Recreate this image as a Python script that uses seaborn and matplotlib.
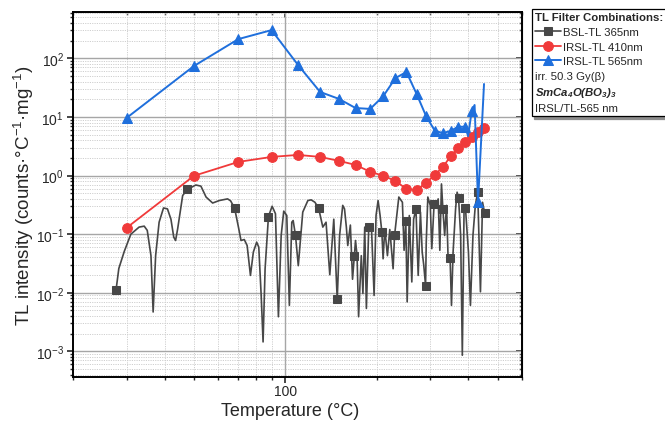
import matplotlib
matplotlib.use("Agg")
import matplotlib.pyplot as plt
import seaborn as sns
import pandas as pd
from matplotlib.ticker import LogLocator, NullFormatter, ScalarFormatter
from matplotlib.offsetbox import TextArea, VPacker

# ---------------- data ----------------
bsl_T = [27.7, 28.3, 29.5, 31.0, 33.0, 34.3, 35.1, 36.1, 36.7, 37.4, 38.4, 39.7, 40.9, 42.0, 42.9,
         43.5, 44.2, 45.9, 47.6, 50.7, 52.7, 54.8, 57.6, 60.6, 64.5, 66.0, 68.0, 70.2, 71.4, 73.2,
         74.8, 76.7, 78.4, 80.4, 81.7, 83.2, 84.4, 85.7, 87.9, 90.4, 92.7, 94.8, 96.8, 98.7, 101.0,
         103.0, 104.9, 106.0, 107.9, 110.2, 114.0, 118.5, 121.5, 125.0, 128.5, 132.7, 136.0, 139.9,
         144.2, 148.0, 150.7, 154.3, 156.4, 158.6, 160.3, 163.5, 166.2, 168.5, 170.0, 172.0, 174.0,
         177.6, 179.8, 182.3, 184.6, 187.9, 191.8, 195.7, 198.6, 201.7, 204.8, 207.5, 209.5, 212.2,
         216.5, 220.4, 226.0, 228.5, 236.0, 242.5, 245.6, 248.8, 251.4, 255.5, 260.4, 264.0, 268.7,
         273.3, 278.0, 281.7, 285.0, 289.0, 290.5, 294.0, 299.5, 303.0, 308.3, 314.0, 318.0, 322.0,
         326.0, 329.5, 334.0, 338.8, 342.6, 348.0, 351.7, 356.0, 362.8, 367.0, 371.0, 377.0, 381.8,
         387.0, 391.0, 399.9, 406.0, 413.8, 421.3, 429.0, 438.0, 445.0, 452.0]
bsl_V = [0.011, 0.026, 0.051, 0.10, 0.132, 0.137, 0.116, 0.043, 0.0047, 0.043, 0.16, 0.28, 0.27, 0.18,
         0.089, 0.078, 0.124, 0.457, 0.58, 0.69, 0.66, 0.43, 0.34, 0.375, 0.40, 0.37, 0.28, 0.124,
         0.078, 0.081, 0.064, 0.0198, 0.0495, 0.073, 0.06, 0.009, 0.00145, 0.0257, 0.2, 0.30, 0.223,
         0.0039, 0.095, 0.247, 0.208, 0.0061, 0.16, 0.171, 0.095, 0.029, 0.238, 0.375, 0.385, 0.35,
         0.28, 0.132, 0.16, 0.0203, 0.18, 0.0077, 0.095, 0.31, 0.27, 0.132, 0.064, 0.143, 0.017,
         0.043, 0.078, 0.043, 0.0039, 0.043, 0.0097, 0.132, 0.0054, 0.13, 0.132, 0.009, 0.208, 0.375,
         0.208, 0.11, 0.038, 0.124, 0.043, 0.12, 0.0257, 0.095, 0.43, 0.35, 0.053, 0.165, 0.007,
         0.208, 0.0153, 0.18, 0.27, 0.0198, 0.238, 0.0495, 0.03, 0.0133, 0.073, 0.43, 0.31, 0.0565,
         0.33, 0.31, 0.40, 0.053, 0.72, 0.27, 0.095, 0.31, 0.043, 0.039, 0.0061, 0.0495, 0.27, 0.52,
         0.42, 0.095, 0.00086, 0.31, 0.28, 0.0495, 0.0061, 0.095, 0.31, 0.52, 0.0104, 0.35, 0.23]
bsl_marker_T = [27.7, 47.6, 68.0, 87.9, 107.9, 128.5, 148.0, 168.5, 187.9, 207.5, 228.5, 248.8,
                268.7, 289.0, 308.3, 329.5, 348.0, 371.0, 391.0, 429.0, 452.0]

red_T = [30, 50, 70, 90, 110, 130, 150, 170, 190, 210, 230, 250, 270, 290, 310, 330, 350, 370,
         390, 410, 430, 450]
red_V = [0.128, 0.99, 1.71, 2.08, 2.25, 2.08, 1.78, 1.52, 1.16, 0.99, 0.81, 0.59, 0.57, 0.75,
         1.03, 1.41, 2.17, 2.96, 3.75, 4.56, 5.55, 6.5]

blue_T = [30, 50, 70, 90, 110, 130, 150, 170, 190, 210, 230, 250, 270, 290, 310, 330, 350, 370,
          390, 399, 410, 419, 430, 450]
blue_V = [9.6, 74, 213, 303, 77, 26.7, 20.3, 14.2, 13.7, 22.8, 46, 58.5, 24.7, 10.4, 5.8, 5.3,
          5.8, 6.8, 6.8, 4.7, 12.8, 16, 0.356, 36.5]
blue_marker_T = [30, 50, 70, 90, 110, 130, 150, 170, 190, 210, 230, 250, 270, 290, 310, 330, 350,
                 370, 390, 410, 430]

series_labels = ["BSL-TL 365nm", "IRSL-TL 410nm", "IRSL-TL 565nm"]
note_lines = ["irr. 50.3 Gy(\u03b2)", r"$\mathbfit{SmCa_4O(BO_3)_3}$", "IRSL/TL-565 nm"]
legend_title = "TL Filter Combinations:"
x_label = "Temperature (\u00b0C)"
y_label = "TL intensity (counts\u00b7\u00b0C$^{-1}$\u00b7mg$^{-1}$)"

# ---------------- style ----------------
sns.set_style("ticks")
plt.rcParams["font.family"] = ["Liberation Sans", "DejaVu Sans"]
plt.rcParams["mathtext.fontset"] = "custom"
plt.rcParams["mathtext.rm"] = "Liberation Sans"
plt.rcParams["mathtext.it"] = "Liberation Sans:italic"
plt.rcParams["mathtext.bf"] = "Liberation Sans:bold"
try:
    plt.rcParams["mathtext.bfit"] = "Liberation Sans:bold:italic"
except KeyError:
    pass

c_black = "#474747"
c_red = "#f03a3a"
c_blue = "#1f6fdc"

fig = plt.figure(figsize=(6.65, 4.31), dpi=100)
ax = fig.add_axes([73 / 665, 1 - 377.7 / 431, (522 - 73) / 665, (377.7 - 13.3) / 431])
ax.set_xscale("log")
ax.set_yscale("log")

df_b = pd.DataFrame({"T": bsl_T, "V": bsl_V})
df_r = pd.DataFrame({"T": red_T, "V": red_V})
df_u = pd.DataFrame({"T": blue_T, "V": blue_V})

sns.lineplot(data=df_b, x="T", y="V", ax=ax, color=c_black, lw=1.2, marker="s", ms=6,
             markevery=[bsl_T.index(t) for t in bsl_marker_T], mec=c_black, mfc=c_black,
             estimator=None, errorbar=None, sort=False, label=series_labels[0], zorder=3)
sns.lineplot(data=df_r, x="T", y="V", ax=ax, color=c_red, lw=1.3, marker="o", ms=7,
             mec=c_red, mfc=c_red, estimator=None, errorbar=None, sort=False,
             label=series_labels[1], zorder=4)
sns.lineplot(data=df_u, x="T", y="V", ax=ax, color=c_blue, lw=1.4, marker="^", ms=7.5,
             markevery=[blue_T.index(t) for t in blue_marker_T], mec=c_blue, mfc=c_blue,
             estimator=None, errorbar=None, sort=False, label=series_labels[2], zorder=5)

ax.set_xlim(20, 600)
ax.set_ylim(3.7e-4, 610)

ax.xaxis.set_major_locator(LogLocator(base=10))
ax.xaxis.set_major_formatter(ScalarFormatter())
ax.xaxis.set_minor_locator(LogLocator(base=10, subs=range(2, 10)))
ax.xaxis.set_minor_formatter(NullFormatter())
ax.yaxis.set_major_locator(LogLocator(base=10, numticks=20))
ax.yaxis.set_minor_locator(LogLocator(base=10, subs=range(2, 10), numticks=20))
ax.yaxis.set_minor_formatter(NullFormatter())

ax.grid(which="major", color="#a6a6a6", lw=1.0, ls="-", zorder=0)
ax.grid(which="minor", color="#cfcfcf", lw=0.7, ls=(0, (1.2, 1.2)), zorder=0)
ax.set_axisbelow(True)

for s in ax.spines.values():
    s.set_linewidth(1.4)
    s.set_color("black")
ax.tick_params(which="major", direction="out", length=4, width=1.2, labelsize=10,
               top=False, right=False, pad=2.5)
ax.tick_params(axis="x", which="major", pad=1.5)
ax.tick_params(which="minor", direction="out", length=2.5, width=1.0, top=False, right=False)

axt = ax.secondary_xaxis("top")
axt.tick_params(which="major", direction="in", length=4, width=1.2, labeltop=False)
axt.tick_params(which="minor", direction="in", length=2.5, width=1.0)
axr = ax.secondary_yaxis("right")
axr.tick_params(which="major", direction="in", length=4, width=1.2, labelright=False)
axr.tick_params(which="minor", direction="in", length=2.5, width=1.0)

ax.set_xlabel(x_label, fontsize=13)
ax.xaxis.set_label_coords((290 - 73) / 449, -(412 - 377.7) / 364.4)
ax.xaxis.label.set_va("center")
ax.set_ylabel(y_label, fontsize=13.5)
ax.yaxis.set_label_coords(-(73 - 24) / 449, (377.7 - 196) / 364.4)
ax.yaxis.label.set_va("center")

handles, labels = ax.get_legend_handles_labels()
leg = ax.legend(handles, labels, loc="upper left", bbox_to_anchor=(531.5 / 665, 1 - 10 / 431),
                bbox_transform=fig.transFigure, borderaxespad=0, frameon=True, fancybox=False,
                edgecolor="black", framealpha=1, shadow={"color": "#8c8c8c", "alpha": 1},
                title=legend_title, alignment="left", fontsize=8.2, title_fontsize=8.2,
                handlelength=2.3, handletextpad=0.2, labelspacing=0.4, borderpad=0.3)
leg.get_title().set_fontweight("bold")
leg.get_frame().set_linewidth(0.9)
notes = VPacker(children=[TextArea(t, textprops=dict(fontsize=8.2)) for t in note_lines],
                align="left", pad=0, sep=3)
notes.set_figure(fig)
for ta in notes.get_children():
    ta.set_figure(fig)
    for ch in ta.get_children():
        ch.set_figure(fig)
leg._legend_box._children.append(notes)

fig.savefig("out.png", dpi=100)
